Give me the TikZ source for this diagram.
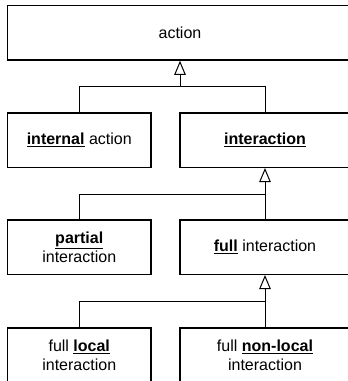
\documentclass[tikz,border=0pt]{standalone}
\usepackage{fontspec}
\setmainfont{Liberation Sans}
\usetikzlibrary{arrows.meta}
% keyword: bold and underlined
\newcommand{\kw}[1]{\underline{\textbf{#1}}}
\begin{document}
\begin{tikzpicture}[x=1pt,y=-1pt,
  cls/.style={draw, line width=1.5pt, minimum height=54.5pt, inner sep=0pt,
    align=center, fill=white, font=\fontsize{16}{19}\selectfont},
  narrow/.style={cls, minimum width=143.5pt},
  wide/.style={cls, minimum width=170pt},
  link/.style={line width=1pt},
  gen/.style={link, -{Triangle[open, length=14pt, width=11.5pt, line width=1pt]}}]
\useasboundingbox (0,0) rectangle (348,381);
\clip (0,0) rectangle (348,381);

% class boxes
\node[cls, minimum width=345pt] (action) at (180,32.75) {action};
\node[narrow] (internal)    at (79.25,140) {\kw{internal} action};
\node[wide]   (interaction) at (265,140)   {\kw{interaction}};
\node[narrow] (partial)     at (79.25,247) {\kw{partial}\\interaction};
\node[wide]   (full)        at (265,247)   {\kw{full} interaction};
\node[narrow] (local)       at (79.25,355) {full \kw{local}\\interaction};
\node[wide]   (nonlocal)    at (265,355)   {full \kw{non-local}\\interaction};

% generalisation joints
\coordinate (j1) at (180,86);
\coordinate (j2) at (265,194);
\coordinate (j3) at (265,301);

\draw[link] (internal.north) |- (j1);
\draw[link] (interaction.north) |- (j1);
\draw[gen] (j1) -- (action.south);

\draw[link] (partial.north) |- (j2);
\draw[gen] (full.north) -- (interaction.south);

\draw[link] (local.north) |- (j3);
\draw[gen] (nonlocal.north) -- (full.south);
\end{tikzpicture}
\end{document}
